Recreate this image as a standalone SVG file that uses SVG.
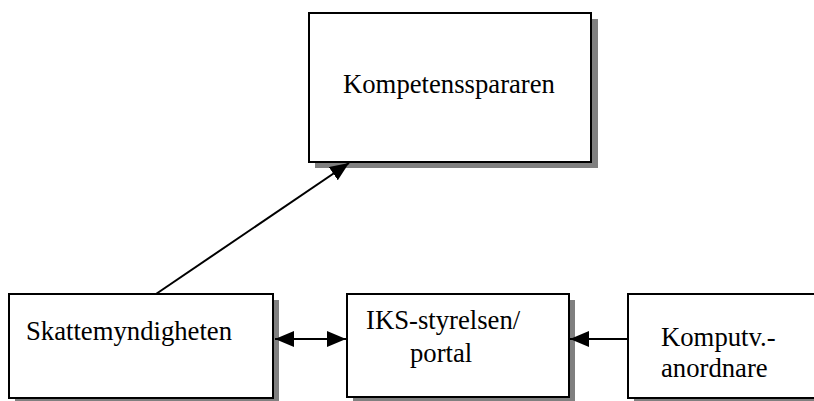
<svg xmlns="http://www.w3.org/2000/svg" width="814" height="401" viewBox="0 0 814 401">
<style>
.shadow{fill:#808080;stroke:none}
.box{fill:#fff;stroke:#000;stroke-width:2}
.lbl{font-family:"Liberation Serif","Times New Roman",serif;font-size:26.7px;fill:#000}
.conn{stroke:#000;stroke-width:2;fill:none}
</style>
<defs>
<marker id="ah" markerUnits="userSpaceOnUse" markerWidth="19" markerHeight="16" refX="19" refY="8" orient="auto-start-reverse">
<path d="M0,0 L19,8 L0,16 z" fill="#000"/>
</marker>
</defs>
<rect width="814" height="401" fill="#fff"/>
<g id="kompetenssparare">
<rect class="shadow" x="315" y="19" width="283" height="149"/>
<rect class="box" x="309" y="13" width="282" height="149"/>
<text class="lbl" x="343" y="93">Kompetensspararen</text>
</g>
<g id="skattemyndigheten">
<rect class="shadow" x="15" y="300" width="264" height="104"/>
<rect class="box" x="9" y="294" width="264" height="104"/>
<text class="lbl" x="26" y="340">Skattemyndigheten</text>
</g>
<g id="iks">
<rect class="shadow" x="353" y="300" width="222" height="104"/>
<rect class="box" x="347" y="294" width="222" height="103"/>
<text class="lbl" x="366" y="329">IKS-styrelsen/</text>
<text class="lbl" x="410" y="362">portal</text>
</g>
<g id="komputv">
<rect class="shadow" x="634" y="300" width="200" height="104"/>
<rect class="box" x="628" y="294" width="200" height="104"/>
<text class="lbl" x="661" y="346">Komputv.-</text>
<text class="lbl" x="661" y="377">anordnare</text>
</g>
<g id="connectors">
<line class="conn" x1="156" y1="294" x2="349" y2="163" marker-end="url(#ah)"/>
<line class="conn" x1="275" y1="339" x2="346" y2="339" marker-start="url(#ah)" marker-end="url(#ah)"/>
<line class="conn" x1="628" y1="339" x2="570" y2="339" marker-end="url(#ah)"/>
</g>
</svg>
